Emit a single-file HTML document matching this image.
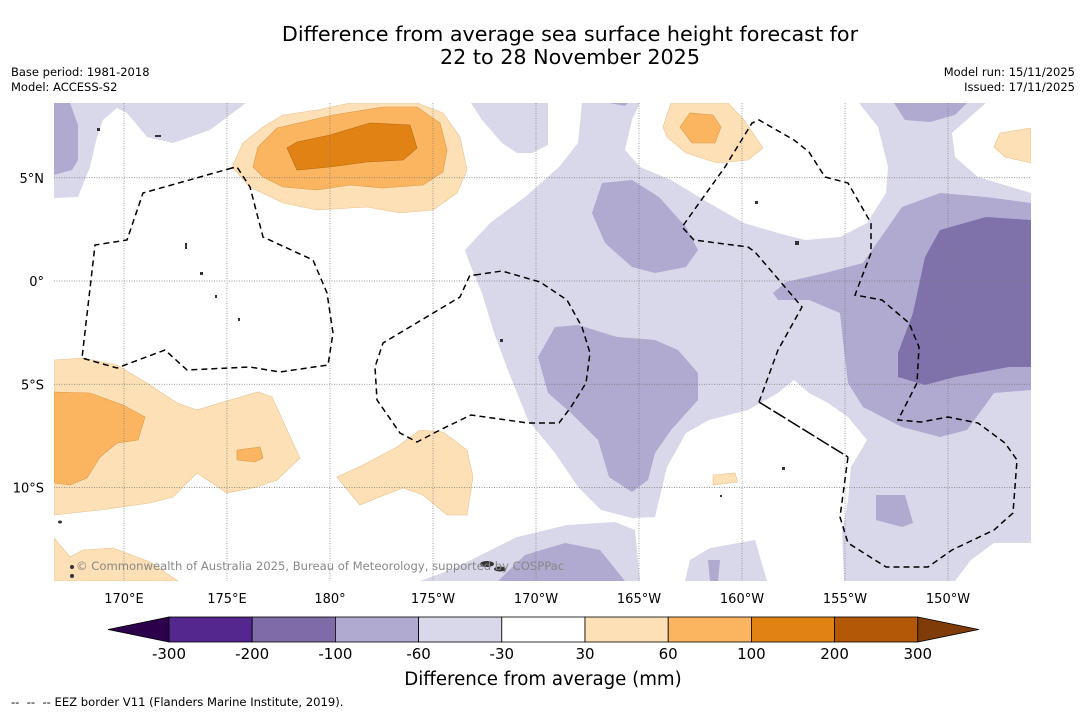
<!DOCTYPE html>
<html><head><meta charset="utf-8">
<style>
body{margin:0;background:#fff;width:1085px;height:713px;overflow:hidden;font-family:"Liberation Sans","DejaVu Sans",sans-serif;}
svg{position:absolute;left:0;top:0}
</style></head>
<body>
<svg id="chart" width="1085" height="713" viewBox="0 0 1085 713" font-family="DejaVu Sans, Liberation Sans, sans-serif">
<text x="570" y="41" font-size="20.7" text-anchor="middle">Difference from average sea surface height forecast for</text>
<text x="570" y="64" font-size="20.7" text-anchor="middle">22 to 28 November 2025</text>
<text x="11" y="76" font-size="11.5">Base period: 1981-2018</text>
<text x="11" y="91" font-size="11.5">Model: ACCESS-S2</text>
<text x="1075" y="76" font-size="11.5" text-anchor="end">Model run: 15/11/2025</text>
<text x="1075" y="91" font-size="11.5" text-anchor="end">Issued: 17/11/2025</text>

<defs><clipPath id="mapclip"><rect x="54" y="103" width="977" height="478"/></clipPath></defs>
<g clip-path="url(#mapclip)">
<rect x="54" y="103" width="977" height="478" fill="#fff"/>
<g fill="#d9d8ea">
<polygon points="54,103 246,103 210,130 173,143 147,137 127,113 117,108 103,120 97,137 90,167 78,197 54,198"/>
<polygon points="471,103 548,103 548,145 532,153 517,153 502,143 482,120"/>
<polygon points="582,103 640,103 632,120 625,150 640,167 671,180 709,203 744,223 778,233 805,240 840,237 867,223 886,193 888,167 878,127 859,103 986,103 978,110 952,133 955,157 978,177 1031,193 1031,543 994,543 971,560 955,581 844,581 842,533 848,500 851,467 867,440 848,417 828,403 809,393 794,380 778,393 748,410 709,420 686,433 667,467 655,517 632,518 601,510 578,487 555,453 528,420 509,373 494,333 482,293 471,267 465,250 490,223 525,197 559,167 578,143"/>
<polygon points="420,581 450,570 471,560 517,537 567,525 615,522 635,530 640,581"/>
<polygon points="685,581 690,560 710,548 755,540 767,581"/>
</g>
<g fill="#b0a9d0">
<polygon points="54,103 70,103 78,125 78,160 72,170 54,175"/>
<polygon points="609,103 628,103 625,106"/>
<polygon points="894,103 967,103 955,115 930,122 905,120"/>
<polygon points="602,183 632,180 659,197 686,227 698,250 686,267 655,273 632,267 605,243 592,213"/>
<polygon points="555,327 578,325 617,337 655,340 678,350 698,373 698,400 671,430 655,453 648,480 632,492 609,477 598,440 571,413 548,393 538,357"/>
<polygon points="773,293 786,282 825,273 863,263 902,207 940,193 986,197 1031,203 1031,390 994,393 967,430 940,437 902,427 863,407 848,383 844,350 840,313 809,300 778,300"/>
<polygon points="876,495 905,495 913,523 902,527 876,520"/>
<polygon points="498,581 525,555 565,543 600,550 625,581"/>
<polygon points="708,560 720,560 718,581 710,581"/>
</g>
<g fill="#7f72aa">
<polygon points="898,353 913,313 925,257 940,230 986,217 1031,220 1031,367 1009,367 955,377 925,385 898,377"/>
</g>
<g fill="#fde0b6" stroke="#e8c08a" stroke-width="0.6">
<polygon points="232,167 243,143 263,127 283,115 317,110 350,103 417,103 443,113 460,137 467,170 457,193 433,210 400,213 367,207 317,210 283,203 250,187"/>
<polygon points="54,360 83,358 117,365 150,385 177,403 197,410 223,402 258,392 272,397 300,458 277,480 257,487 227,493 197,473 173,497 150,503 100,510 54,515"/>
<polygon points="54,538 70,557 83,550 113,548 150,562 178,581 54,581"/>
<polygon points="337,477 363,465 397,447 420,430 443,432 467,450 473,477 467,515 447,515 423,495 403,488 377,498 360,505 350,493"/>
<polygon points="671,103 728,103 744,120 763,148 748,160 717,163 686,153 667,137 663,127"/>
<polygon points="1031,128 1000,133 994,147 1005,157 1031,163"/>
<polygon points="713,475 735,473 738,482 713,485"/>
</g>
<g fill="#fbb560" stroke="#d99a48" stroke-width="0.6">
<polygon points="253,167 258,147 277,128 303,122 333,115 383,107 417,107 440,123 447,150 443,172 423,185 383,188 350,185 317,190 283,187 263,177"/>
<polygon points="54,392 90,393 123,405 145,417 138,440 117,443 100,457 87,478 70,485 54,483"/>
<polygon points="237,450 260,447 263,458 255,462 237,460"/>
<polygon points="680,127 690,113 713,115 721,127 715,143 692,143"/>
</g>
<g fill="#e08214" stroke="#b86a10" stroke-width="0.6">
<polygon points="287,148 297,142 330,135 370,123 410,125 417,148 403,160 367,162 330,167 297,170"/>
</g>
<g id="grid" stroke="#777" stroke-width="0.7" stroke-dasharray="1,1.5"></g>
<g fill="none" stroke="#000" stroke-width="1.5" stroke-dasharray="6,4">
<polygon points="232,168 143,193 127,240 95,245 82,358 117,368 165,350 187,370 250,367 280,372 328,365 333,333 327,293 313,260 263,237 250,187 237,167"/>
<polygon points="475,275 502,271 540,282 567,300 582,327 590,353 586,383 571,407 559,423 528,423 471,415 440,430 417,442 400,433 377,400 375,367 383,343 460,297 470,275"/>
<polyline points="759,402 778,350 802,307 755,252 748,247 694,240 682,227 725,167 752,123 759,120 794,140 809,152 825,177 848,183 871,223 871,253 855,295 882,300 909,323 919,347 917,383 898,420 921,422 948,417 978,423 1005,443 1017,460 1013,513 994,530 952,550 928,567 886,567 848,543 840,517 848,457"/>
<polyline points="759,402 848,457" stroke-dasharray="14,3"/>
</g>
<g fill="#333">
<ellipse cx="487" cy="564" rx="7" ry="3"/><ellipse cx="500" cy="569" rx="6" ry="2.5"/>
<ellipse cx="72" cy="567" rx="2" ry="2"/><ellipse cx="72" cy="576" rx="2" ry="2"/><ellipse cx="60" cy="522" rx="2" ry="1.5"/>
<rect x="185" y="243" width="2" height="6"/><rect x="200" y="272" width="3" height="3"/><rect x="215" y="295" width="2" height="3"/><rect x="238" y="318" width="2" height="3"/><rect x="755" y="201" width="3" height="3"/><rect x="795" y="241" width="4" height="4"/><rect x="500" y="339" width="3" height="3"/><rect x="720" y="495" width="2" height="2"/><rect x="782" y="467" width="3" height="3"/><rect x="155" y="135" width="6" height="2"/><rect x="97" y="128" width="3" height="3"/>
</g>
<text x="76" y="570" font-size="11.6" fill="#888">© Commonwealth of Australia 2025, Bureau of Meteorology, supported by COSPPac</text>
</g>
<g id="axes"></g>
<g id="colorbar"></g>
<text x="543" y="685" font-size="18.2" text-anchor="middle">Difference from average (mm)</text>
<text x="11" y="706" font-size="11.6" xml:space="preserve">--  --  -- EEZ border V11 (Flanders Marine Institute, 2019).</text>
</svg>
<script>
const lonTicks=[170,175,180,-175,-170,-165,-160,-155,-150];
const lonLabels=["170°E","175°E","180°","175°W","170°W","165°W","160°W","155°W","150°W"];
const latTicks=[5,0,-5,-10];
const latLabels=["5°N","0°","5°S","10°S"];
const cbBounds=[-300,-200,-100,-60,-30,30,60,100,200,300];
const cbColors=["#54278f","#7e6ca8","#b0a9d0","#d9d8ea","#ffffff","#fde0b6","#fbb560","#e08214","#b35806"];
const cbExtLow="#2d004b", cbExtHigh="#7f3b08";
const NS="http://www.w3.org/2000/svg";
function xLon(l){const e=l<0?l+360:l;return 124+(e-170)*20.6;}
function yLat(a){return 281-a*20.65;}
function mk(t,a,p){const e=document.createElementNS(NS,t);for(const k in a)e.setAttribute(k,a[k]);p.appendChild(e);return e;}
const grid=document.getElementById('grid'),axes=document.getElementById('axes'),cb=document.getElementById('colorbar');
lonTicks.forEach((l,i)=>{const x=xLon(l);
 const g=mk('line',{x1:x,x2:x,y1:103,y2:581},grid);
 
 
 const t=mk('text',{x:x,y:603,'font-size':13,'text-anchor':'middle'},axes);t.textContent=lonLabels[i];
 
 });
latTicks.forEach((a,i)=>{const y=yLat(a);
 const g=mk('line',{x1:54,x2:1031,y1:y,y2:y},grid);
 
 
 const t=mk('text',{x:44,y:y+5,'font-size':13,'text-anchor':'end'},axes);t.textContent=latLabels[i];
 
 });
const cbX0=169,cbW=83.2,cbY=617,cbH=25;
function xCb(i){return cbX0+i*cbW;}
const lo=mk('polygon',{points:`108,${cbY+cbH/2} ${xCb(0)},${cbY} ${xCb(0)},${cbY+cbH}`,fill:cbExtLow,stroke:'#000','stroke-width':0.8},cb);


cbColors.forEach((c,i)=>{const r=mk('rect',{x:xCb(i),y:cbY,width:cbW,height:cbH,fill:c,stroke:'#000','stroke-width':0.8},cb);
 
 });
const n=cbColors.length;
const hi=mk('polygon',{points:`${xCb(n)},${cbY} ${xCb(n)+61},${cbY+cbH/2} ${xCb(n)},${cbY+cbH}`,fill:cbExtHigh,stroke:'#000','stroke-width':0.8},cb);


cbBounds.forEach((b,i)=>{const t=mk('text',{x:xCb(i),y:659,'font-size':15,'text-anchor':'middle'},cb);t.textContent=String(b);
 
 });
</script>
</body></html>
